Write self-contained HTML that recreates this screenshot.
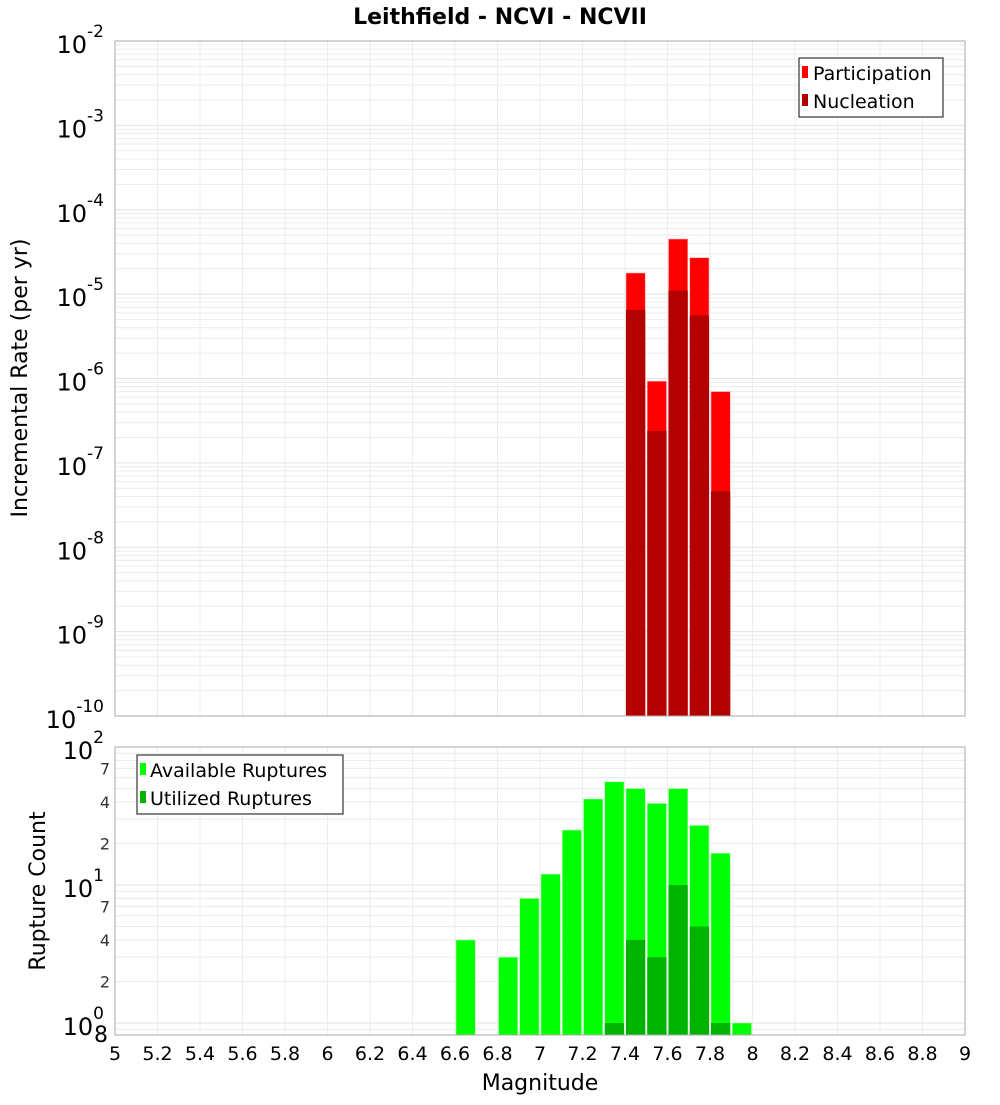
<!DOCTYPE html>
<html><head><meta charset="utf-8"><style>
body{margin:0;background:#fff;}
svg{font-family:"DejaVu Sans","Liberation Sans",sans-serif;}
</style></head><body>
<svg id="c" width="1000" height="1100" xmlns="http://www.w3.org/2000/svg">
<text x="500" y="24" text-anchor="middle" font-weight="bold" font-size="22">Leithfield - NCVI - NCVII</text>
<g id="top"></g><g id="bot"></g>
</svg>
<script>
const binCenters = [7.45, 7.55, 7.65, 7.75, 7.85];
const participation = [1.78e-5, 9.3e-7, 4.5e-5, 2.7e-5, 7.0e-7];
const nucleation = [6.5e-6, 2.4e-7, 1.1e-5, 5.6e-6, 4.6e-8];
const countCenters = [6.65, 6.85, 6.95, 7.05, 7.15, 7.25, 7.35, 7.45, 7.55, 7.65, 7.75, 7.85, 7.95];
const available = [4, 3, 8, 12, 25, 42, 56, 50, 39, 50, 27, 17, 1];
const utilCenters = [7.35, 7.45, 7.55, 7.65, 7.75, 7.85];
const utilized = [1, 4, 3, 10, 5, 1];
const xTicks = [5,5.2,5.4,5.6,5.8,6,6.2,6.4,6.6,6.8,7,7.2,7.4,7.6,7.8,8,8.2,8.4,8.6,8.8,9];

const NS="http://www.w3.org/2000/svg";
const svgEl=document.getElementById('c');
function mk(parent,tag,attrs,text){const e=document.createElementNS(NS,tag);for(const k in attrs)e.setAttribute(k,attrs[k]);if(text!==undefined)e.textContent=text;parent.appendChild(e);return e;}
const L=115,R=965;
const xs=m=>L+(m-5)/4*(R-L);
const T1=41,B1=716; const yTop=v=>T1+(-2-Math.log10(v))*(B1-T1)/8;
const T2=747; const dec2=138; const yBot=v=>T2+(2-Math.log10(v))*dec2; const B2=1035;
const bw=(xs(5.1)-xs(5))-2;
const gTop=document.getElementById('top'), gBot=document.getElementById('bot');

for(let e=-10;e<-2;e++){for(let k=2;k<10;k++){const y=yTop(k*Math.pow(10,e));const l=mk(gTop,'line',{x1:L,x2:R,y1:y,y2:y,stroke:'#ececec'});}}
for(let e=-10;e<=-2;e++){const y=yTop(Math.pow(10,e));const l=mk(gTop,'line',{x1:L,x2:R,y1:y,y2:y,stroke:'#e2e2e2'});
 const t=mk(gTop,'text',{x:104,y:y+12,'text-anchor':'end','font-size':24});
 t.appendChild(document.createTextNode('10'));mk(t,'tspan',{dy:-16,'font-size':17},String(e));}
xTicks.forEach(m=>{const l=mk(gTop,'line',{x1:xs(m),x2:xs(m),y1:T1,y2:B1,stroke:'#ececec'});});
binCenters.forEach((m,i)=>{
 const x=xs(m)-bw/2;
 let r=mk(gTop,'rect',{x:x,y:yTop(participation[i]),width:bw,height:B1-yTop(participation[i]),fill:'#ff0000',stroke:'#ffb0b0','stroke-width':0.6});
 
 r=mk(gTop,'rect',{x:x,y:yTop(nucleation[i]),width:bw,height:B1-yTop(nucleation[i]),fill:'#b30000'});
 
});
let f=mk(gTop,'rect',{x:L,y:T1,width:R-L,height:B1-T1,fill:'none',stroke:'#aaa'});
let t=mk(gTop,'text',{transform:'translate(27,378) rotate(-90)','text-anchor':'middle','font-size':22},'Incremental Rate (per yr)');
let lg=mk(gTop,'g',{});
mk(lg,'rect',{x:799,y:58,width:144,height:59,fill:'#fff',stroke:'#333','stroke-width':1.2});
[['Participation','#ff0000',73],['Nucleation','#b30000',101]].forEach(([n,c,y])=>{const g=mk(lg,'g',{});mk(g,'rect',{x:802,y:y-7,width:6,height:12,fill:c});mk(g,'text',{x:813,y:y+7,'font-size':19},n);});

for(let e=-1;e<2;e++){for(let k=2;k<10;k++){const v=k*Math.pow(10,e);const y=yBot(v);if(y>B2||y<T2)continue;const l=mk(gBot,'line',{x1:L,x2:R,y1:y,y2:y,stroke:'#ececec'});}}
[0,1,2].forEach(e=>{const y=yBot(Math.pow(10,e));const l=mk(gBot,'line',{x1:L,x2:R,y1:y,y2:y,stroke:'#e2e2e2'});
 const tt=mk(gBot,'text',{x:104,y:y+12,'text-anchor':'end','font-size':24});
 tt.appendChild(document.createTextNode('10'));mk(tt,'tspan',{dy:-16,'font-size':17},String(e));});
[[7,10],[4,10],[2,10],[7,1],[4,1],[2,1]].forEach(([k,s])=>{const y=yBot(k*s);const tt=mk(gBot,'text',{x:110,y:y+6,'text-anchor':'end','font-size':16,fill:'#333'},String(k));});
t=mk(gBot,'text',{x:108,y:1042,'text-anchor':'end','font-size':22},'8');
xTicks.forEach(m=>{const l=mk(gBot,'line',{x1:xs(m),x2:xs(m),y1:T2,y2:B2,stroke:'#ececec'});
 const tt=mk(gBot,'text',{x:xs(m),y:1060,'text-anchor':'middle','font-size':19},String(m));});
countCenters.forEach((m,i)=>{const r=mk(gBot,'rect',{x:xs(m)-bw/2,y:yBot(available[i]),width:bw,height:B2-yBot(available[i]),fill:'#00ff00',stroke:'#b0ffb0','stroke-width':0.6});});
utilCenters.forEach((m,i)=>{const r=mk(gBot,'rect',{x:xs(m)-bw/2,y:yBot(utilized[i]),width:bw,height:B2-yBot(utilized[i]),fill:'#00b300'});});
f=mk(gBot,'rect',{x:L,y:T2,width:R-L,height:B2-T2,fill:'none',stroke:'#aaa'});
t=mk(gBot,'text',{transform:'translate(45,891) rotate(-90)','text-anchor':'middle','font-size':22},'Rupture Count');
t=mk(gBot,'text',{x:540,y:1090,'text-anchor':'middle','font-size':22},'Magnitude');
lg=mk(gBot,'g',{});
mk(lg,'rect',{x:137,y:755,width:206,height:59,fill:'#fff',stroke:'#333','stroke-width':1.2});
[['Available Ruptures','#00ff00',770],['Utilized Ruptures','#00b300',798]].forEach(([n,c,y])=>{const g=mk(lg,'g',{});mk(g,'rect',{x:140,y:y-7,width:6,height:12,fill:c});mk(g,'text',{x:150,y:y+7,'font-size':19},n);});
</script>
</body></html>
